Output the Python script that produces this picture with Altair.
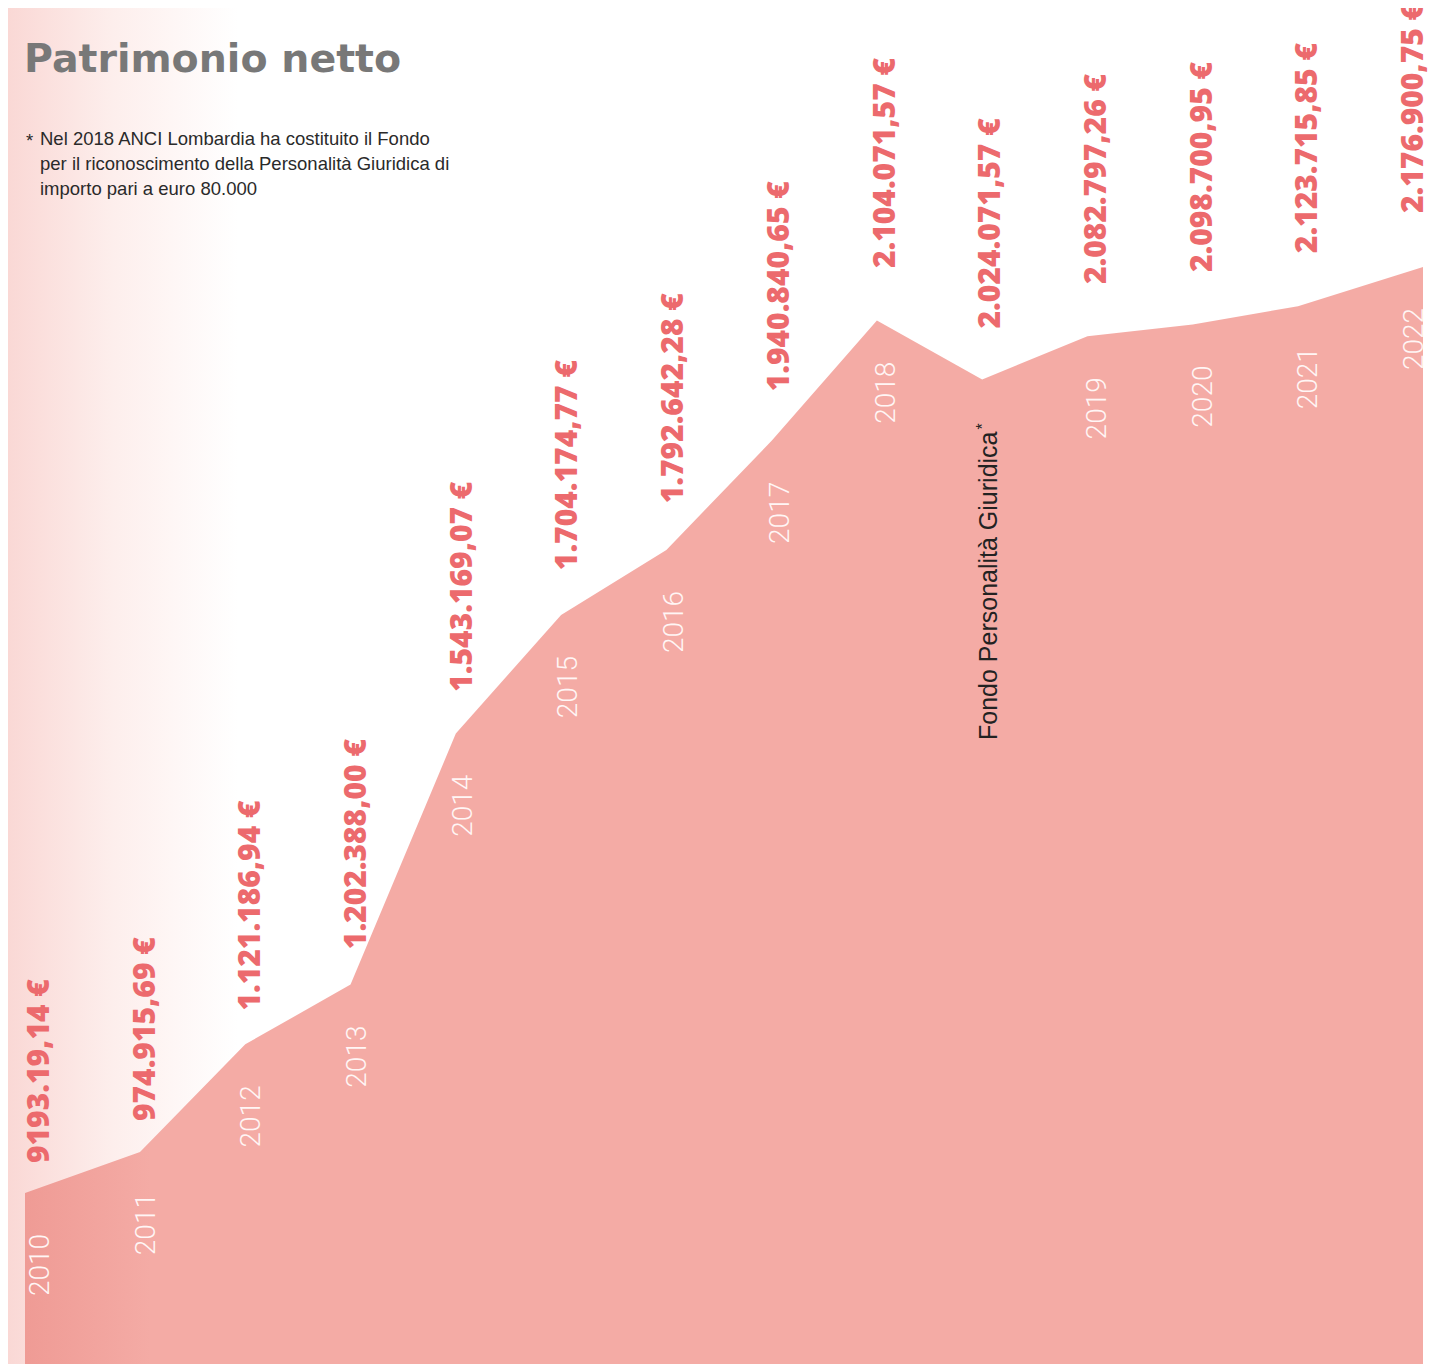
import altair as alt
import pandas as pd

# ---- data ----
anni = ["2010", "2011", "2012", "2013", "2014", "2015", "2016", "2017", "2018",
        "Fondo Personalità Giuridica", "2019", "2020", "2021", "2022"]
valori = [919319.14, 974915.69, 1121186.94, 1202388.00, 1543169.07, 1704174.77,
          1792642.28, 1940840.65, 2104071.57, 2024071.57, 2082797.26, 2098700.95,
          2123715.85, 2176900.75]
etichette = ["9193.19,14 €", "974.915,69 €", "1.121.186,94 €", "1.202.388,00 €",
             "1.543.169,07 €", "1.704.174,77 €", "1.792.642,28 €", "1.940.840,65 €",
             "2.104.071,57 €", "2.024.071,57 €", "2.082.797,26 €", "2.098.700,95 €",
             "2.123.715,85 €", "2.176.900,75 €"]
tipi = ["anno"] * 9 + ["fondo"] + ["anno"] * 4

titolo = ["Patrimonio netto"]
nota = ["Nel 2018 ANCI Lombardia ha costituito il Fondo",
        "per il riconoscimento della Personalità Giuridica di",
        "importo pari a euro 80.000"]

df = pd.DataFrame({"idx": list(range(len(anni))), "anno": anni, "valore": valori,
                   "etichetta": etichette, "tipo": tipi})

W, H = 1430, 1360

x_area = alt.Scale(domain=[0, 1, 12, 13], range=[17, 132, 1290, 1415])
y_area = alt.Scale(domain=[681620, 2528600], nice=False, zero=False)
x_lab = alt.Scale(domain=[0, 13], range=[30, 1404])
y_lab = alt.Scale(domain=[648000, 2448300], nice=False, zero=False)

RED = "#ec6a6d"

bg_grad = alt.Gradient(gradient="linear", x1=0, x2=1, y1=0, y2=0,
                       stops=[alt.GradientStop(color="#fad8d5", offset=0),
                              alt.GradientStop(color="#fdeeec", offset=0.45),
                              alt.GradientStop(color="#ffffff", offset=1)])
area_grad = alt.Gradient(gradient="linear", x1=0, x2=1, y1=0, y2=0,
                         stops=[alt.GradientStop(color="#ef9b95", offset=0),
                                alt.GradientStop(color="#f4aba5", offset=0.09),
                                alt.GradientStop(color="#f4aba5", offset=1)])

background = alt.Chart(pd.DataFrame({"k": [0]})).mark_rect(color=bg_grad).encode(
    x=alt.value(0), x2=alt.value(230), y=alt.value(0), y2=alt.value(H))

area = alt.Chart(df).mark_area(color=area_grad).encode(
    x=alt.X("idx:Q", scale=x_area, axis=None),
    y=alt.Y("valore:Q", scale=y_area, axis=None),
    y2=alt.value(H))

value_text = alt.Chart(df).mark_text(
    angle=270, align="left", baseline="middle", font="Open Sans", fontWeight=800,
    fontSize=30, color=RED, dy=2).encode(
    x=alt.X("idx:Q", scale=x_lab, axis=None),
    y=alt.Y("valore:Q", scale=y_lab, axis=None),
    text="etichetta:N")

year_text = alt.Chart(df).transform_filter("datum.tipo == 'anno'").mark_text(
    angle=270, align="right", baseline="middle", font="Roboto", fontWeight=300,
    fontSize=28, color="#fff6f5", dx=-41, dy=3).encode(
    x=alt.X("idx:Q", scale=x_lab, axis=None),
    y=alt.Y("valore:Q", scale=y_area, axis=None),
    text="anno:N")

fondo_text = alt.Chart(df).transform_filter("datum.tipo == 'fondo'").mark_text(
    angle=270, align="right", baseline="middle", font="Liberation Sans",
    fontSize=25, color="#222222", dx=-52, dy=0).encode(
    x=alt.X("idx:Q", scale=x_lab, axis=None),
    y=alt.Y("valore:Q", scale=y_area, axis=None),
    text="anno:N")

fondo_star = alt.Chart(df).transform_filter("datum.tipo == 'fondo'").mark_text(
    angle=270, align="left", baseline="middle", font="Liberation Sans",
    fontSize=16, color="#222222", dx=-50, dy=-6, text="*").encode(
    x=alt.X("idx:Q", scale=x_lab, axis=None),
    y=alt.Y("valore:Q", scale=y_area, axis=None))

title_mark = alt.Chart(pd.DataFrame({"t": titolo})).mark_text(
    align="left", baseline="alphabetic", font="DejaVu Sans", fontWeight="bold",
    fontSize=39.5, color="#787878").encode(
    x=alt.value(16), y=alt.value(64), text="t:N")

note_star = alt.Chart(pd.DataFrame({"t": ["*"]})).mark_text(
    align="left", baseline="alphabetic", font="Liberation Sans", fontSize=18.5,
    color="#2a2a2a").encode(x=alt.value(18), y=alt.value(139), text="t:N")

note_mark = alt.Chart(pd.DataFrame({"t": [nota]})).mark_text(
    align="left", baseline="alphabetic", font="Liberation Sans", fontSize=18.5,
    lineHeight=25, color="#2a2a2a").encode(
    x=alt.value(32), y=alt.value(137), text="t")

chart = alt.layer(background, area, value_text, year_text, fondo_text, fondo_star,
                  title_mark, note_star, note_mark).resolve_scale(
    x="independent", y="independent").properties(
    width=W, height=H, padding=0,
    autosize=alt.AutoSizeParams(type="none")).configure_view(stroke=None)

chart.save("out.html", embed_options={"renderer": "svg", "actions": False})
